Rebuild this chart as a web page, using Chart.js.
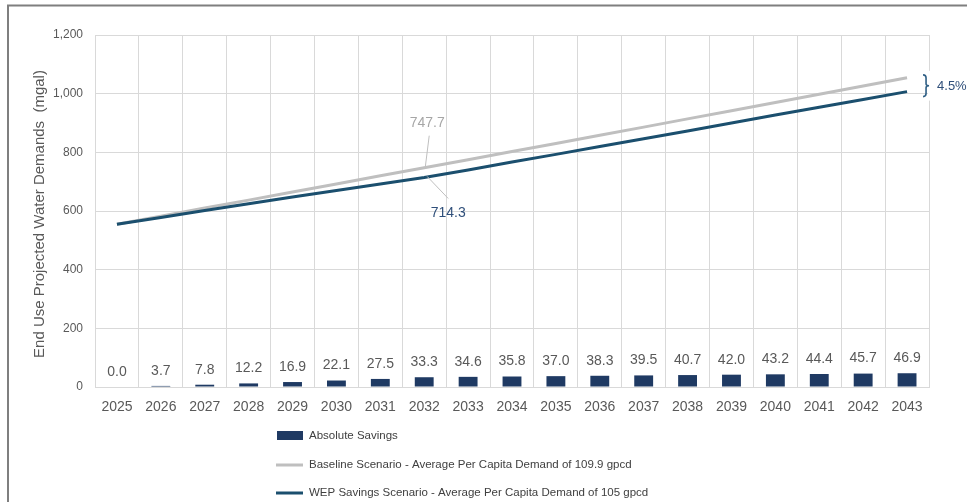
<!DOCTYPE html>
<html>
<head>
<meta charset="utf-8">
<script src="https://cdn.jsdelivr.net/npm/chart.js@4.4.1/dist/chart.umd.min.js"></script>
<style>
    html, body { margin: 0; padding: 0; background: #fff; }
    #wrap { width: 967px; height: 502px; }
</style>
</head>
<body>
<div id="wrap"><canvas id="chart" width="967" height="502"></canvas></div>
<script>
const years = ['2025', '2026', '2027', '2028', '2029', '2030', '2031', '2032', '2033', '2034',
               '2035', '2036', '2037', '2038', '2039', '2040', '2041', '2042', '2043'];
const absoluteSavings = [0.0, 3.7, 7.8, 12.2, 16.9, 22.1, 27.5, 33.3, 34.6, 35.8,
                         37.0, 38.3, 39.5, 40.7, 42.0, 43.2, 44.4, 45.7, 46.9];
const baselineDemand = [555, 582, 610, 637, 665, 692, 720, 747.7, 775, 803,
                        830, 858, 886, 914, 942, 970, 998, 1026, 1054];
const wepDemand = [555, 578, 602, 625, 648, 670, 692, 714.3, 740, 767,
                   793, 820, 846, 873, 900, 927, 954, 980, 1007];
const yTicks = [0, 200, 400, 600, 800, 1000, 1200];
const calloutYear = '2032';
const savingsPctLabel = '4.5%';
const yTitle = 'End Use Projected Water Demands  (mgal)';

const FONT = "'Liberation Sans', Arial, sans-serif";
const GRID = '#d9d9d9';
const TEXT = '#595959';

// labels above the bars, callouts, brace, custom legend, frame
const extras = {
    id: 'extras',
    afterDraw(chart) {
        const ctx = chart.ctx;
        const xs = chart.scales.x;
        const ys = chart.scales.y;
        const area = chart.chartArea;
        ctx.save();

        // bar value labels
        ctx.font = '14px ' + FONT;
        ctx.fillStyle = TEXT;
        ctx.textAlign = 'center';
        ctx.textBaseline = 'middle';
        chart.getDatasetMeta(0).data.forEach((bar, i) => {
            ctx.fillText(absoluteSavings[i].toFixed(1), bar.x, bar.y - 15);
        });

        // 2032 callouts
        const ci = years.indexOf(calloutYear);
        const cx = xs.getPixelForValue(ci);
        const yb = ys.getPixelForValue(baselineDemand[ci]);
        const yw = ys.getPixelForValue(wepDemand[ci]);
        ctx.strokeStyle = '#bfbfbf';
        ctx.lineWidth = 1;
        ctx.beginPath();
        ctx.moveTo(cx + 5, yb - 32);
        ctx.lineTo(cx + 1, yb);
        ctx.moveTo(cx + 3, yw - 1);
        ctx.lineTo(cx + 24, yw + 21);
        ctx.stroke();
        ctx.fillStyle = '#a6a6a6';
        ctx.fillText(baselineDemand[ci].toFixed(1), cx + 3, yb - 45);
        ctx.fillStyle = '#2f4f7a';
        ctx.fillText(wepDemand[ci].toFixed(1), cx + 24, yw + 36);

        // brace + % savings at the end
        const li = years.length - 1;
        const lx = xs.getPixelForValue(li);
        const y1 = ys.getPixelForValue(baselineDemand[li]) - 3;
        const y2 = ys.getPixelForValue(wepDemand[li]) + 5;
        const bx = lx + 16;
        const ym = (y1 + y2) / 2;
        ctx.fillStyle = '#fff';
        ctx.fillRect(area.right - 1, y1 - 4, 40, y2 - y1 + 8);
        ctx.strokeStyle = '#2f5f85';
        ctx.lineWidth = 1.6;
        ctx.beginPath();
        ctx.moveTo(bx, y1);
        ctx.quadraticCurveTo(bx + 3, y1, bx + 3, y1 + 3);
        ctx.lineTo(bx + 3, ym - 2);
        ctx.quadraticCurveTo(bx + 3, ym, bx + 6, ym);
        ctx.quadraticCurveTo(bx + 3, ym, bx + 3, ym + 2);
        ctx.lineTo(bx + 3, y2 - 3);
        ctx.quadraticCurveTo(bx + 3, y2, bx, y2);
        ctx.stroke();
        ctx.fillStyle = '#2f4f7a';
        ctx.font = '13px ' + FONT;
        ctx.textAlign = 'left';
        ctx.fillText(savingsPctLabel, bx + 14, ym + 1);

        // y axis title
        ctx.save();
        ctx.translate(40, (area.top + area.bottom) / 2 + 3);
        ctx.rotate(-Math.PI / 2);
        ctx.textAlign = 'center';
        ctx.fillStyle = TEXT;
        ctx.font = '15px ' + FONT;
        ctx.fillText(yTitle, 0, 0);
        ctx.restore();

        // legend, one entry per row
        const rows = [436, 465, 493];
        ctx.font = '11.5px ' + FONT;
        ctx.textAlign = 'left';
        chart.data.datasets.forEach((ds, i) => {
            const y = rows[i];
            if (ds.type === 'bar') {
                ctx.fillStyle = ds.backgroundColor;
                ctx.fillRect(277, y - 5, 26, 9);
            } else {
                ctx.strokeStyle = ds.borderColor;
                ctx.lineWidth = 3;
                ctx.beginPath();
                ctx.moveTo(276, y);
                ctx.lineTo(303, y);
                ctx.stroke();
            }
            ctx.fillStyle = '#404040';
            ctx.fillText(ds.label, 309, y);
        });

        // outer frame
        ctx.strokeStyle = '#7f7f7f';
        ctx.lineWidth = 2;
        ctx.beginPath();
        ctx.moveTo(8, 502);
        ctx.lineTo(8, 5.5);
        ctx.lineTo(967, 5.5);
        ctx.stroke();
        ctx.restore();
    }
};

new Chart(document.getElementById('chart'), {
    data: {
        labels: years,
        datasets: [
            {
                type: 'bar',
                label: 'Absolute Savings',
                data: absoluteSavings,
                backgroundColor: '#1f3a63',
                barPercentage: 0.43,
                categoryPercentage: 1,
                order: 3
            },
            {
                type: 'line',
                label: 'Baseline Scenario - Average Per Capita Demand of 109.9 gpcd',
                data: baselineDemand,
                borderColor: '#bfbfbf',
                borderWidth: 3,
                pointRadius: 0,
                tension: 0,
                order: 2
            },
            {
                type: 'line',
                label: 'WEP Savings Scenario - Average Per Capita Demand of 105 gpcd',
                data: wepDemand,
                borderColor: '#1b4f6e',
                borderWidth: 3,
                pointRadius: 0,
                tension: 0,
                order: 1
            }
        ]
    },
    options: {
        responsive: false,
        animation: false,
        devicePixelRatio: 1,
        layout: { padding: { top: 35, right: 38, bottom: 0, left: 0 } },
        plugins: {
            legend: { display: false },
            tooltip: { enabled: false }
        },
        scales: {
            x: {
                offset: true,
                grid: { color: GRID, offset: true, drawTicks: false },
                border: { color: GRID },
                ticks: { color: TEXT, font: { family: FONT, size: 14 }, padding: 12, maxRotation: 0 },
                afterFit: (scale) => { scale.height = 115; }
            },
            y: {
                min: 0,
                max: 1200,
                grid: { color: GRID, drawTicks: false },
                border: { display: false },
                afterBuildTicks: (scale) => { scale.ticks = yTicks.map(v => ({ value: v })); },
                ticks: {
                    color: TEXT,
                    font: { family: FONT, size: 12 },
                    padding: 12,
                    callback: (v) => v.toLocaleString('en-US')
                },
                afterFit: (scale) => { scale.width = 95; }
            }
        }
    },
    plugins: [extras]
});
</script>
</body>
</html>
